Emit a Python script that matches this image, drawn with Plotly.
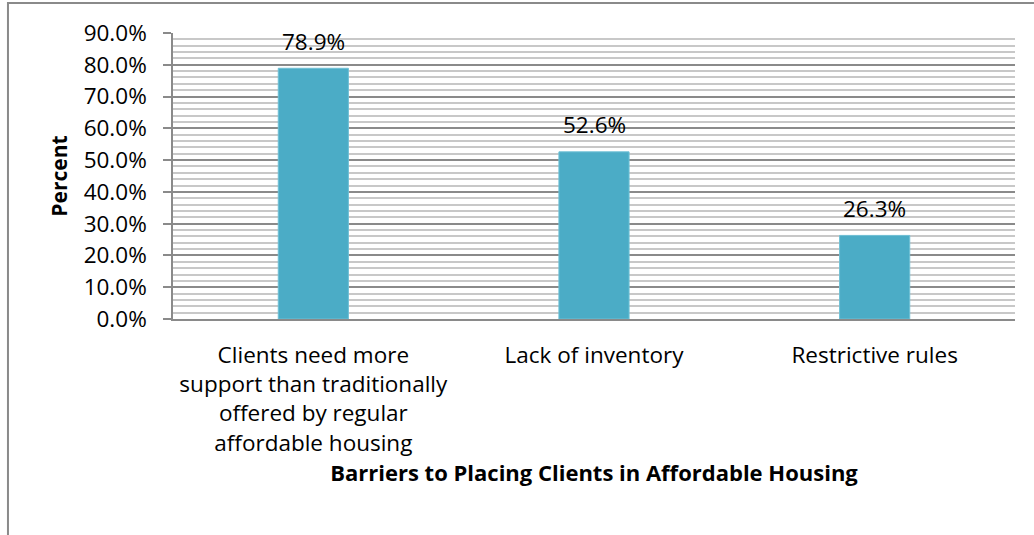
import plotly.graph_objects as go

categories = ["Clients need more<br>support than traditionally<br>offered by regular<br>affordable housing",
              "Lack of inventory", "Restrictive rules"]
values = [0.789, 0.526, 0.263]
labels = ["78.9%", "52.6%", "26.3%"]

FONT = "Open Sans, sans-serif"
FS = 22.5

fig = go.Figure(go.Bar(
    x=categories, y=values, width=0.25,
    marker=dict(color="#4BACC6", line=dict(color="#6fc0d6", width=1)),
))

for c, v, t in zip(categories, values, labels):
    fig.add_annotation(x=c, y=v, text=t, showarrow=False, yshift=27,
                       font=dict(size=FS, color="#000", family=FONT))

fig.update_layout(
    width=1034, height=535,
    margin=dict(l=173, r=19, t=33, b=216),
    paper_bgcolor="white", plot_bgcolor="white",
    showlegend=False,
    font=dict(family=FONT, size=FS, color="#000"),
    bargap=0.75,
)
fig.update_yaxes(
    range=[0, 0.9], dtick=0.1, tickformat=".1%",
    showgrid=True, gridcolor="#8a8a8a", gridwidth=1.5,
    minor=dict(dtick=0.02, showgrid=True, gridcolor="#c8c8c8", gridwidth=1.5),
    ticks="outside", ticklen=8, tickcolor="#8a8a8a", tickwidth=1.5,
    ticklabelstandoff=12,
    tickfont=dict(size=FS, family=FONT),
    showline=True, linecolor="#8a8a8a", linewidth=1.5,
    zeroline=False,
    title=dict(text="<b>Percent</b>", font=dict(size=21, family=FONT), standoff=10),
)
fig.update_xaxes(
    showline=True, linecolor="#8a8a8a", linewidth=1.5,
    showgrid=False, ticks="",
    ticklabelstandoff=15,
    tickfont=dict(size=FS, family=FONT),
    title=dict(text="<b>Barriers to Placing Clients in Affordable Housing</b>",
               font=dict(size=22, family=FONT), standoff=0),
)
fig.add_shape(type="rect", xref="paper", yref="paper",
              x0=-0.196, x1=1.06, y0=-0.9, y1=1.105,
              line=dict(color="#8a8a8a", width=2), layer="below")

fig.write_html("out.html", post_script="document.body.style.margin='0';",
               config={"displayModeBar": False})
